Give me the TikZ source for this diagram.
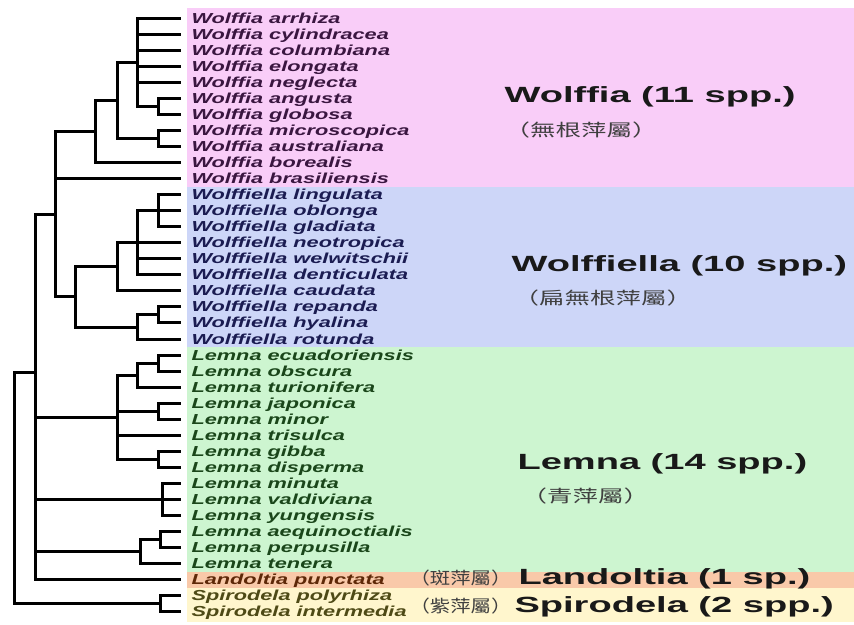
\documentclass[tikz,border=0pt]{standalone}
\usepackage{fontspec}
\setmainfont{Liberation Sans}
\newfontfamily\cjk{Noto Sans CJK TC}
\usepackage{graphicx}
\usepackage{xcolor}
\definecolor{wolffiabg}{HTML}{F9CDF8}
\definecolor{wolffiellabg}{HTML}{CDD6F8}
\definecolor{lemnabg}{HTML}{CDF5D0}
\definecolor{landoltiabg}{HTML}{F9C9A9}
\definecolor{spirodelabg}{HTML}{FFF6CD}
\definecolor{wolffiatx}{HTML}{3A1640}
\definecolor{wolffiellatx}{HTML}{1B1C52}
\definecolor{lemnatx}{HTML}{1A461A}
\definecolor{landoltiatx}{HTML}{5E2808}
\definecolor{spirodelatx}{HTML}{4E4A16}
\newcommand{\wide}[2]{\scalebox{#1}[1]{#2}}

\begin{document}
\begin{tikzpicture}[x=1pt,y=-1pt,line width=3pt,line join=miter]
    \tikzstyle{leaf}=[anchor=base west,inner sep=0pt,font=\fontsize{14.5}{16}\selectfont\bfseries\itshape]
    \tikzstyle{genus}=[anchor=base west,inner sep=0pt,font=\fontsize{22}{26}\selectfont\bfseries,text=black!90]
    \tikzstyle{zh}=[anchor=west,inner sep=0pt,font=\fontsize{17}{20}\selectfont\cjk,text=black!75]
    \useasboundingbox (0,0) rectangle (854,624);
    % colour bands
    \fill[wolffiabg] (187,8) rectangle (854,187);
    \fill[wolffiellabg] (187,187) rectangle (854,347);
    \fill[lemnabg] (187,347) rectangle (854,572);
    \fill[landoltiabg] (187,572) rectangle (854,588);
    \fill[spirodelabg] (187,588) rectangle (854,622);
    % leaves
    \foreach \i/\sname in {0/arrhiza,1/cylindracea,2/columbiana,3/elongata,4/neglecta,5/angusta,6/globosa,7/microscopica,8/australiana,9/borealis,10/brasiliensis} {
      \coordinate (t\i) at (181,18+16.05*\i);
      \node[leaf,text=wolffiatx] (n\i) at (190,23+16.05*\i) {\wide{1.5}{Wolffia \sname}};
    }
    \foreach \i/\sname in {11/lingulata,12/oblonga,13/gladiata,14/neotropica,15/welwitschii,16/denticulata,17/caudata,18/repanda,19/hyalina,20/rotunda} {
      \coordinate (t\i) at (181,18+16.05*\i);
      \node[leaf,text=wolffiellatx] (n\i) at (190,23+16.05*\i) {\wide{1.5}{Wolffiella \sname}};
    }
    \foreach \i/\sname in {21/ecuadoriensis,22/obscura,23/turionifera,24/japonica,25/minor,26/trisulca,27/gibba,28/disperma,29/minuta,30/valdiviana,31/yungensis,32/aequinoctialis,33/perpusilla,34/tenera} {
      \coordinate (t\i) at (181,18+16.05*\i);
      \node[leaf,text=lemnatx] (n\i) at (190,23+16.05*\i) {\wide{1.5}{Lemna \sname}};
    }
    \coordinate (t35) at (181,579.75);
    \node[leaf,text=landoltiatx] (n35) at (190,584.75) {\wide{1.5}{Landoltia punctata}};
    \coordinate (t36) at (181,595.8);
    \node[leaf,text=spirodelatx] (n36) at (190,600.8) {\wide{1.5}{Spirodela polyrhiza}};
    \coordinate (t37) at (181,611.85);
    \node[leaf,text=spirodelatx] (n37) at (190,616.85) {\wide{1.5}{Spirodela intermedia}};
    % inner branch points
    \coordinate (a1) at (158,106.3);
    \coordinate (a2) at (137,62);
    \coordinate (a3) at (158,138.4);
    \coordinate (a4) at (117,100.2);
    \coordinate (a5) at (95,131.3);
    \coordinate (b1) at (158,210.6);
    \coordinate (b2) at (137,242.7);
    \coordinate (b3) at (117,266.8);
    \coordinate (b4) at (158,314.9);
    \coordinate (b5) at (137,327);
    \coordinate (b6) at (75,296.9);
    \coordinate (c1) at (55,214.1);
    \coordinate (d1) at (158,363.1);
    \coordinate (d2) at (137,375.1);
    \coordinate (d3) at (158,411.2);
    \coordinate (d4) at (158,459.4);
    \coordinate (d5) at (117,417.2);
    \coordinate (d6) at (162,499.5);
    \coordinate (d7) at (160,539.6);
    \coordinate (d8) at (140,551.7);
    \coordinate (e1) at (35,372);
    \coordinate (s1) at (160,603.8);
    \coordinate (root) at (14,488);
    \foreach \p/\c in {a1/t5,a1/t6,a2/t0,a2/t1,a2/t2,a2/t3,a2/t4,a2/a1,a3/t7,a3/t8,a4/a2,a4/a3,a5/a4,a5/t9,
                       b1/t11,b1/t12,b1/t13,b2/b1,b2/t14,b2/t15,b2/t16,b3/b2,b3/t17,b4/t18,b4/t19,b5/b4,b5/t20,b6/b3,b6/b5,
                       c1/a5,c1/t10,c1/b6,
                       d1/t21,d1/t22,d2/d1,d2/t23,d3/t24,d3/t25,d4/t27,d4/t28,d5/d2,d5/d3,d5/t26,d5/d4,
                       d6/t29,d6/t30,d6/t31,d7/t32,d7/t33,d8/d7,d8/t34,
                       e1/c1,e1/d5,e1/d6,e1/d8,e1/t35,s1/t36,s1/t37,root/e1,root/s1}
      \draw (\p) |- (\c);
    % genus labels
    \node[genus] (wolffia) at (503,102) {\wide{1.73}{Wolffia (11 spp.)}};
    \node[zh] (wolffiazh) at (503,130) {\wide{1.5}{（無根萍屬）}};
    \node[genus] (wolffiella) at (510,271) {\wide{1.73}{Wolffiella (10 spp.)}};
    \node[zh] (wolffiellazh) at (512,298) {\wide{1.5}{（扁無根萍屬）}};
    \node[genus] (lemna) at (516,469) {\wide{1.73}{Lemna (14 spp.)}};
    \node[zh] (lemnazh) at (520,496) {\wide{1.5}{（青萍屬）}};
    \node[genus] (landoltia) at (517,584) {\wide{1.73}{Landoltia (1 sp.)}};
    \node[zh] (landoltiazh) at (408,578) {\wide{1.2}{（斑萍屬）}};
    \node[genus] (spirodela) at (513,612) {\wide{1.73}{Spirodela (2 spp.)}};
    \node[zh] (spirodelazh) at (408,606) {\wide{1.2}{（紫萍屬）}};
\end{tikzpicture}
\end{document}
